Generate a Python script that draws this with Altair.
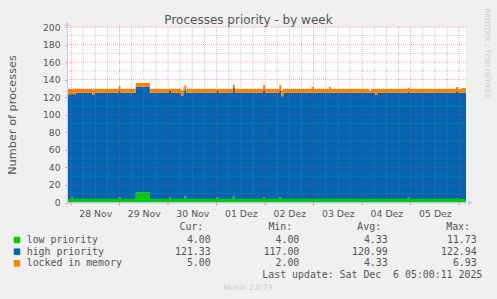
import altair as alt
import pandas as pd

# ---------------- data (hours since 28 Nov 00:00, step values) ----------------
SERIES = ["low priority", "high priority", "locked in memory"]
COLORS = ["#00CC00", "#0066B3", "#FF8000"]

bp_hours = [-2, 0, 1, 2.5, 10.5, 11.5, 23.5, 24.5, 32, 39, 48.5, 49.5, 54.5, 55.5,
            56, 57, 72, 73, 80, 81, 95, 96, 103, 104, 105, 119, 120, 127.5, 128.5,
            147.5, 148.5, 150.5, 151.5, 166.5, 167.5, 190.5, 191.5, 193, 195.4]
low_vals = [4, 6.5, 4, 4, 4, 4, 6, 4, 11.5, 4, 6, 4, 4, 4,
            7, 4, 6, 4, 7.5, 4, 6, 4, 6, 4, 4, 4, 4, 4, 4,
            4, 4, 4, 4, 5.5, 4, 5, 4, 4, 4]
high_vals = [119.5, 117.5, 119.5, 121, 118.5, 121, 121, 121, 120.5, 121, 121, 121, 117.5, 121,
             121.5, 121, 121, 121, 122.9, 121, 121, 121, 121, 117, 121, 121, 121, 121, 121,
             121, 121, 118.5, 121, 121, 121, 121, 121, 121.33, 121.33]
locked_vals = [5.8, 5.3, 5.8, 4.3, 6.5, 4.3, 5.5, 4.3, 4.3, 4.3, 2.5, 4.3, 6.5, 4.3,
               4.8, 4.3, 2.0, 4.3, 3.8, 4.3, 6.9, 4.3, 6.9, 6.9, 4.3, 6.9, 4.3, 6.9, 4.3,
               2.5, 4.3, 6.9, 4.3, 4.3, 4.3, 5.5, 4.3, 5.0, 5.0]

DAY_LABELS = ["28 Nov", "29 Nov", "30 Nov", "01 Dez", "02 Dez", "03 Dez", "04 Dez", "05 Dez"]
label_hours = [12, 36, 60, 84, 108, 132, 156, 180]
y_ticks = [0, 20, 40, 60, 80, 100, 120, 140, 160, 180, 200]

CUR = [4.00, 121.33, 5.00]
MIN = [4.00, 117.00, 2.00]
AVG = [4.33, 120.99, 4.33]
MAX = [11.73, 122.94, 6.93]
HEADERS = ["Cur:", "Min:", "Avg:", "Max:"]
LAST_UPDATE = "Last update: Sat Dec \u00a06 05:00:11 2025"
TITLE = "Processes priority - by week"
YTITLE = "Number of processes"
SIDE = "RRDTOOL / TOBI OETIKER"
VERSION = "Munin 2.0.73"

# ---------------- build stacked table ----------------
rows = []
for i, h in enumerate(bp_hours):
    b = 0.0
    for s, v in zip(SERIES, [low_vals[i], high_vals[i], locked_vals[i]]):
        rows.append({"h": h, "series": s, "bottom": b, "top": b + v})
        b += v
area_df = pd.DataFrame(rows)

FONT = "DejaVu Sans"
MONO = "DejaVu Sans Mono"
TXT = "#555555"
AXC = "#C8C8FF"

xs = alt.Scale(domain=[-2, 195.4], nice=False, zero=False)
ys = alt.Scale(domain=[0, 200], nice=False, zero=False)
cscale = alt.Scale(domain=SERIES, range=COLORS)

label_expr = "[" + ",".join("'%s'" % d for d in DAY_LABELS) + "][round((datum.value-12)/24)]"

XAXIS = alt.Axis(values=label_hours, labelExpr=label_expr, title=None,
                 grid=False, ticks=False, domain=True, domainColor=AXC,
                 labelFont=FONT, labelFontSize=9.3, labelColor=TXT,
                 labelPadding=6.5, labelFlush=False, zindex=1)
YAXIS = alt.Axis(values=y_ticks, title=YTITLE, grid=False,
                 ticks=True, tickSize=2, tickColor="#F08080",
                 domain=True, domainColor=AXC,
                 labelFont=FONT, labelFontSize=9.2, labelColor=TXT,
                 labelPadding=5, titleFont=FONT, titleFontSize=11.3,
                 titleColor=TXT, titleFontWeight="normal",
                 titleX=-55, titleY=87.5, titleAngle=-90,
                 titleAlign="center", titleBaseline="middle", zindex=1)

areas = alt.Chart(area_df).mark_area(interpolate="step-after", opacity=1).encode(
    x=alt.X("h:Q", scale=xs, axis=XAXIS),
    y=alt.Y("top:Q", scale=ys, axis=YAXIS),
    y2="bottom:Q",
    color=alt.Color("series:N", scale=cscale, legend=None),
)

minor_y = [v + 10 for v in y_ticks[:-1]]
major_y = y_ticks[1:]
major_x = [d * 24 for d in range(0, 9)]
minor_x = [h for h in range(6, 196, 6) if h % 24 != 0]

def hrule(vals, color, op):
    return alt.Chart(pd.DataFrame({"v": vals})).mark_rule(
        stroke=color, strokeOpacity=op, strokeDash=[1, 1], strokeWidth=1).encode(
        y=alt.Y("v:Q", scale=ys, axis=YAXIS))

def vrule(vals, color, op):
    return alt.Chart(pd.DataFrame({"v": vals})).mark_rule(
        stroke=color, strokeOpacity=op, strokeDash=[1, 1], strokeWidth=1).encode(
        x=alt.X("v:Q", scale=xs, axis=XAXIS))

xticks = alt.Chart(pd.DataFrame({"v": major_x})).mark_rule(stroke="#F08080", strokeWidth=1).encode(
    x=alt.X("v:Q", scale=xs, axis=XAXIS), y=alt.value(175.5), y2=alt.value(178.5))

arrows = alt.Chart(pd.DataFrame({"a": ["up", "right"]})).mark_point(filled=True, opacity=1, color=AXC, size=30).encode(
    x=alt.X("a:N", scale=alt.Scale(type="point", domain=["up", "right"], range=[0, 403.5], padding=0), axis=None),
    y=alt.Y("a:N", scale=alt.Scale(type="point", domain=["up", "right"], range=[-3, 175.5], padding=0), axis=None),
    shape=alt.Shape("a:N", scale=alt.Scale(domain=["up", "right"], range=["triangle-up", "triangle-right"]), legend=None),
)

def note(text, x, y, size, color, font=FONT, align="center", angle=0):
    return alt.Chart(pd.DataFrame({"t": [text]})).mark_text(
        align=align, baseline="middle", font=font, fontSize=size, color=color, angle=angle).encode(
        x=alt.value(x), y=alt.value(y), text="t:N")

main = alt.layer(
    areas,
    hrule(minor_y, "#888888", 0.45),
    vrule(minor_x, "#888888", 0.45),
    hrule(major_y, "#FF3333", 0.45),
    vrule(major_x, "#FF3333", 0.45),
    xticks,
    note(TITLE, 181.5, -7.5, 12, TXT),
    note(SIDE, 420, 26.5, 7, "#CCCCCC", angle=90),
    note(VERSION, 181, 261.3, 7.5, "#CCCCCC"),
)

leg_df = pd.DataFrame({"series": SERIES, "cur": CUR, "min": MIN, "avg": AVG, "max": MAX})
row_y = alt.Y("series:N", scale=alt.Scale(type="point", domain=SERIES, range=[213, 236.3], padding=0), axis=None)

squares = alt.Chart(leg_df).mark_square(size=42, opacity=1, filled=True).encode(
    x=alt.value(-50), y=row_y, color=alt.Color("series:N", scale=cscale, legend=None))
names = alt.Chart(leg_df).mark_text(align="left", baseline="middle", font=MONO, fontSize=9.9, color=TXT).encode(
    x=alt.value(-40.3), y=row_y, text="series:N")
vals = []
for col, xr in [("cur", 143.7), ("min", 232.3), ("avg", 320.7), ("max", 409.7)]:
    vals.append(alt.Chart(leg_df).mark_text(align="right", baseline="middle", font=MONO, fontSize=9.9, color=TXT).encode(
        x=alt.value(xr), y=row_y, text=alt.Text(f"{col}:Q", format=".2f")))
heads = alt.Chart(pd.DataFrame({"h": HEADERS})).mark_text(align="right", baseline="middle", font=MONO, fontSize=9.9, color=TXT).encode(
    x=alt.X("h:N", scale=alt.Scale(type="point", domain=HEADERS, range=[136.3, 403], padding=0), axis=None),
    y=alt.value(200.3), text="h:N")
last = note(LAST_UPDATE, 415.3, 248.3, 9.9, TXT, font=MONO, align="right")

legend = alt.layer(squares, names, *vals, heads, last)

chart = alt.layer(main, legend, arrows).resolve_scale(x="independent", y="independent", shape="independent").properties(
    width=399, height=175.5, autosize="none", background="#F0F0F0",
    padding={"left": 67, "top": 27, "right": 31, "bottom": 96.5},
).configure_view(stroke=None, fill="white")

chart.save("out.html", embed_options={"renderer": "svg", "actions": False})
